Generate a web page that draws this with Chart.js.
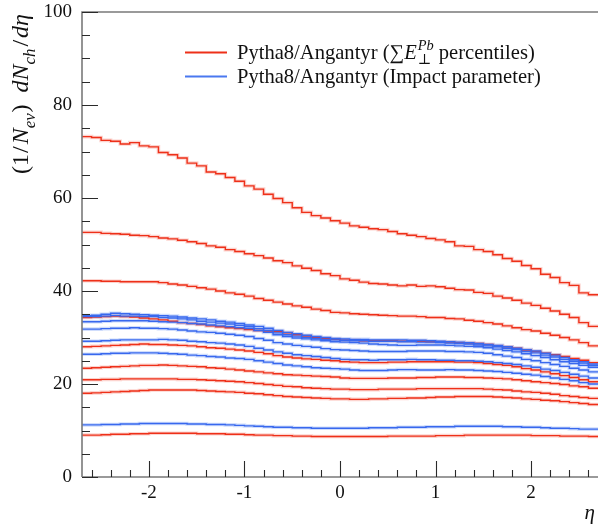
<!DOCTYPE html>
<html>
<head>
<meta charset="utf-8">
<script src="https://cdn.jsdelivr.net/npm/chart.js@4"></script>
<style>
  html, body { margin: 0; padding: 0; background: #ffffff; }
  #wrap { width: 598px; height: 525px; }
</style>
</head>
<body>
<div id="wrap"><canvas id="c" width="598" height="525"></canvas></div>
<script>
// ---------------- data ----------------
const binEdges = [-2.7,-2.6,-2.5,-2.4,-2.3,-2.2,-2.1,-2.0,-1.9,-1.8,-1.7,-1.6,-1.5,-1.4,-1.3,-1.2,-1.1,-1.0,-0.9,-0.8,-0.7,-0.6,-0.5,-0.4,-0.3,-0.2,-0.1,0.0,0.1,0.2,0.3,0.4,0.5,0.6,0.7,0.8,0.9,1.0,1.1,1.2,1.3,1.4,1.5,1.6,1.7,1.8,1.9,2.0,2.1,2.2,2.3,2.4,2.5,2.6,2.7];

// Pytha8/Angantyr (sum E_T^Pb percentiles) - red
const etPerc1 = [73.2,73.0,72.4,72.2,71.6,71.9,71.2,71.0,69.8,69.3,
  68.6,67.5,66.9,65.6,65.2,64.4,63.6,62.6,61.9,60.8,
  59.9,59.0,57.9,56.9,56.2,55.7,55.1,54.6,54.0,53.7,
  53.4,53.2,52.8,52.3,52.0,51.7,51.3,51.0,50.6,49.7,
  49.6,48.9,48.5,47.8,47.0,46.4,45.5,44.8,43.6,42.9,
  41.8,41.2,39.6,39.2];
const etPerc2 = [52.6,52.6,52.4,52.3,52.2,52.0,51.9,51.7,51.4,51.2,
  50.9,50.6,50.2,49.7,49.4,48.9,48.5,48.0,47.6,47.1,
  46.5,46.1,45.4,44.9,44.4,43.7,43.3,42.6,42.3,41.9,
  41.6,41.5,41.3,41.1,41.3,41.0,41.1,40.9,40.6,40.3,
  40.2,39.7,39.5,38.9,38.5,38.0,37.4,36.9,36.3,35.7,
  35.0,34.3,33.2,32.4];
const etPerc3 = [42.2,42.2,42.1,42.1,42.0,42.0,42.0,42.0,41.8,41.5,
  41.3,41.0,40.7,40.4,40.0,39.6,39.3,38.9,38.4,38.0,
  37.6,37.2,36.8,36.5,36.1,35.8,35.4,35.3,35.1,35.0,
  34.9,34.8,34.7,34.6,34.6,34.5,34.3,34.3,34.1,34.0,
  33.7,33.5,33.2,32.9,32.5,32.1,31.7,31.4,30.9,30.5,
  30.0,29.5,28.9,28.2];
const etPerc4 = [34.3,34.4,34.5,34.6,34.5,34.4,34.2,34.0,33.8,33.5,
  33.2,33.0,32.8,32.5,32.3,32.1,31.9,31.7,31.5,31.4,
  31.3,31.0,30.6,30.3,30.0,29.8,29.6,29.4,29.4,29.3,
  29.3,29.3,29.3,29.2,29.2,29.2,29.1,29.1,29.0,28.9,
  28.8,28.7,28.5,28.2,28.0,27.7,27.3,27.0,26.6,26.3,
  25.9,25.5,25.1,24.6];
const etPerc5 = [28.0,28.1,28.2,28.3,28.4,28.5,28.6,28.5,28.5,28.4,
  28.3,28.2,28.0,27.8,27.7,27.5,27.3,27.1,26.8,26.5,
  26.1,25.8,25.6,25.4,25.3,25.1,25.0,24.8,24.7,24.6,
  24.6,24.6,24.7,24.7,24.8,24.8,24.8,24.8,24.8,24.7,
  24.7,24.6,24.4,24.2,24.0,23.7,23.3,23.0,22.6,22.2,
  21.8,21.4,20.9,20.5];
const etPerc6 = [23.4,23.5,23.6,23.7,23.8,23.9,24.0,24.0,24.1,24.0,
  23.9,23.8,23.7,23.5,23.4,23.2,23.0,22.8,22.6,22.4,
  22.2,22.0,21.9,21.8,21.7,21.6,21.5,21.3,21.2,21.2,
  21.2,21.2,21.3,21.3,21.3,21.4,21.4,21.5,21.5,21.5,
  21.4,21.4,21.3,21.2,21.1,20.9,20.7,20.5,20.3,20.1,
  19.9,19.6,19.4,19.1];
const etPerc7 = [20.9,20.9,21.0,21.0,21.1,21.1,21.1,21.1,21.1,21.1,
  21.0,21.0,20.9,20.8,20.7,20.6,20.5,20.3,20.1,19.9,
  19.7,19.5,19.4,19.2,19.1,19.0,18.9,18.9,18.8,18.8,
  18.8,18.9,18.9,18.9,18.9,19.0,19.0,19.0,19.0,19.0,
  19.0,19.0,18.9,18.8,18.7,18.5,18.3,18.2,18.0,17.8,
  17.5,17.3,17.1,16.9];
const etPerc8 = [18.0,18.1,18.2,18.3,18.4,18.5,18.6,18.7,18.7,18.7,
  18.7,18.7,18.6,18.5,18.4,18.3,18.2,18.0,17.9,17.7,
  17.5,17.3,17.2,17.1,17.0,16.9,16.8,16.8,16.7,16.7,
  16.8,16.8,16.9,16.9,17.0,17.0,17.1,17.2,17.2,17.3,
  17.3,17.3,17.3,17.2,17.1,17.0,16.8,16.7,16.5,16.4,
  16.2,16.0,15.8,15.6];
const etPerc9 = [9.0,9.0,9.1,9.2,9.2,9.3,9.3,9.4,9.4,9.4,
  9.4,9.4,9.3,9.3,9.3,9.2,9.2,9.1,9.0,9.0,
  8.9,8.9,8.8,8.8,8.7,8.7,8.7,8.7,8.7,8.7,
  8.7,8.7,8.8,8.8,8.8,8.8,8.8,8.9,8.9,8.9,
  9.0,9.0,9.0,9.0,9.0,9.0,9.0,8.9,8.9,8.9,
  8.8,8.8,8.8,8.7];

// Pytha8/Angantyr (Impact parameter) - blue
const impact1 = [34.7,34.8,35.0,35.2,35.1,35.0,34.9,34.8,34.7,34.6,
  34.4,34.2,34.0,33.8,33.5,33.3,33.0,32.7,32.4,32.0,
  31.5,31.1,30.8,30.5,30.2,30.0,29.8,29.7,29.6,29.6,
  29.5,29.5,29.5,29.5,29.4,29.4,29.3,29.2,29.1,29.0,
  28.9,28.7,28.5,28.3,28.0,27.7,27.4,27.1,26.6,26.2,
  25.7,25.2,24.8,24.3];
const impact2 = [34.5,34.5,34.6,34.7,34.6,34.6,34.5,34.5,34.3,34.2,
  34.0,33.8,33.5,33.3,33.1,32.9,32.6,32.3,31.9,31.5,
  31.0,30.6,30.3,30.0,29.8,29.6,29.5,29.4,29.3,29.3,
  29.2,29.2,29.2,29.1,29.1,29.0,29.0,28.9,28.8,28.7,
  28.6,28.4,28.2,28.0,27.7,27.4,27.0,26.7,26.2,25.8,
  25.3,24.9,24.5,24.0];
const impact3 = [33.4,33.4,33.5,33.6,33.6,33.6,33.6,33.5,33.4,33.3,
  33.2,33.0,32.9,32.7,32.5,32.3,32.1,31.9,31.5,31.1,
  30.6,30.2,29.9,29.7,29.5,29.3,29.1,29.0,28.9,28.8,
  28.6,28.5,28.4,28.3,28.3,28.4,28.4,28.4,28.3,28.2,
  28.1,28.0,27.8,27.5,27.2,26.9,26.5,26.1,25.7,25.2,
  24.8,24.4,24.0,23.6];
const impact4 = [31.8,31.8,31.9,32.0,32.0,32.1,32.0,32.0,31.9,31.8,
  31.6,31.4,31.2,31.1,30.9,30.7,30.5,30.2,29.8,29.4,
  28.9,28.6,28.3,28.1,27.9,27.6,27.4,27.3,27.2,27.1,
  27.0,27.0,27.0,27.0,27.1,27.1,27.1,27.1,27.0,27.0,
  26.9,26.8,26.6,26.3,26.0,25.7,25.3,25.0,24.6,24.2,
  23.8,23.4,23.0,22.6];
const impact5 = [29.2,29.2,29.3,29.4,29.5,29.5,29.5,29.5,29.6,29.5,
  29.4,29.2,29.1,28.9,28.8,28.6,28.4,28.1,27.7,27.3,
  26.9,26.6,26.3,26.1,25.9,25.7,25.5,25.3,25.2,25.2,
  25.1,25.2,25.2,25.2,25.3,25.2,25.2,25.1,25.1,25.0,
  25.0,24.9,24.8,24.6,24.4,24.2,23.9,23.6,23.2,22.9,
  22.5,22.1,21.7,21.3];
const impact6 = [26.4,26.4,26.5,26.6,26.6,26.7,26.7,26.7,26.6,26.5,
  26.4,26.2,26.1,25.9,25.8,25.6,25.5,25.3,25.0,24.7,
  24.4,24.1,23.9,23.7,23.5,23.4,23.3,23.2,23.0,22.9,
  22.9,22.9,23.0,23.1,23.1,23.0,23.0,23.0,23.1,23.0,
  23.0,22.9,22.8,22.7,22.5,22.3,22.1,21.9,21.6,21.3,
  21.0,20.7,20.3,20.0];
const impact7 = [11.2,11.2,11.3,11.3,11.4,11.4,11.5,11.5,11.5,11.5,
  11.5,11.4,11.4,11.3,11.3,11.2,11.1,11.0,10.9,10.8,
  10.7,10.7,10.6,10.6,10.5,10.5,10.5,10.5,10.5,10.5,
  10.6,10.6,10.6,10.7,10.7,10.7,10.8,10.8,10.8,10.9,
  10.9,10.9,10.9,10.9,10.8,10.8,10.7,10.7,10.6,10.5,
  10.5,10.4,10.3,10.3];

const sumEtSeries = [etPerc1, etPerc2, etPerc3, etPerc4, etPerc5, etPerc6, etPerc7, etPerc8, etPerc9];
const impactSeries = [impact1, impact2, impact3, impact4, impact5, impact6, impact7];

const legendLabels = ['Pytha8/Angantyr (\u2211E\u22A5Pb percentiles)', 'Pytha8/Angantyr (Impact parameter)'];
const xMajorTicks = [-2, -1, 0, 1, 2];
const xMinorTicks = [-2.6,-2.4,-2.2,-1.8,-1.6,-1.4,-1.2,-0.8,-0.6,-0.4,-0.2,0.2,0.4,0.6,0.8,1.2,1.4,1.6,1.8,2.2,2.4,2.6];
const yMajorTicks = [0, 20, 40, 60, 80, 100];
const yMinorTicks = [5,10,15,25,30,35,45,50,55,65,70,75,85,90,95];

// ---------------- style ----------------
const RED = '#ee3019';
const BLUE = '#3868ee';
const RED_BAND = 'rgba(246,120,105,0.32)';
const BLUE_BAND = 'rgba(110,150,246,0.32)';
const FAMILY = '"Liberation Serif", "DejaVu Serif", serif';

function histPoints(vals) {
  return binEdges.map((e, i) => ({ x: e, y: vals[Math.min(i, vals.length - 1)] }));
}
function lineDs(vals, color, width, order) {
  return {
    data: histPoints(vals), borderColor: color, borderWidth: width,
    stepped: 'before', pointRadius: 0, fill: false, tension: 0, order: order
  };
}

const datasets = [];
impactSeries.forEach(v => datasets.push(lineDs(v, BLUE, 1.4, 0)));
sumEtSeries.forEach(v => datasets.push(lineDs(v, RED, 1.4, 1)));
impactSeries.forEach(v => datasets.push(lineDs(v, BLUE_BAND, 3.6, 2)));
sumEtSeries.forEach(v => datasets.push(lineDs(v, RED_BAND, 3.6, 3)));

// rich text helper
function drawRich(ctx, pieces, x, y, size, measureOnly) {
  let cx = x;
  let prevAdv = 0, prevStart = x;
  pieces.forEach(p => {
    const s = (p.sub || p.sup) ? size * 0.7 : size;
    ctx.font = (p.i ? 'italic ' : '') + s + 'px ' + FAMILY;
    const w = ctx.measureText(p.t).width;
    let dy = 0;
    if (p.sub) dy = size * 0.28;
    if (p.sup) dy = -size * 0.42;
    let startX = cx;
    if (p.stack) { startX = prevStart; }
    if (!measureOnly) ctx.fillText(p.t, startX, y + dy);
    if (p.stack) {
      cx = prevStart + Math.max(prevAdv, w);
    } else {
      prevStart = cx; prevAdv = w;
      cx += w + (p.gap || 0);
    }
  });
  return cx - x;
}

const yTitlePieces = [
  { t: '(1', gap: 1 }, { t: '/', gap: 2 }, { t: 'N', i: 1 }, { t: 'ev', i: 1, sub: 1, gap: 1 }, { t: ')  ' },
  { t: 'd', i: 1 }, { t: 'N', i: 1 }, { t: 'ch', i: 1, sub: 1, gap: 2 }, { t: '/', gap: 2 },
  { t: 'd', i: 1 }, { t: '\u03B7', i: 1 }
];
const legendPieces = [
  [ { t: 'Pytha8/Angantyr (' }, { t: '\u2211' }, { t: 'E', i: 1, gap: 1 }, { t: '\u22A5', sub: 1 }, { t: 'Pb', i: 1, sup: 1, stack: 1 }, { t: ' percentiles)' } ],
  [ { t: 'Pytha8/Angantyr (Impact parameter)' } ]
];

const decor = {
  id: 'decor',
  afterDraw(chart) {
    const { ctx, chartArea: a, scales: { x, y } } = chart;
    ctx.save();
    // frame
    ctx.strokeStyle = '#7a7a7a';
    ctx.lineWidth = 1.6;
    ctx.beginPath();
    ctx.moveTo(a.left, a.bottom); ctx.lineTo(a.left, a.top); ctx.lineTo(a.right + 2, a.top);
    ctx.moveTo(a.left, a.bottom); ctx.lineTo(a.right + 2, a.bottom);
    ctx.stroke();
    // ticks (inside)
    ctx.strokeStyle = '#2a2a2a';
    ctx.lineWidth = 1.1;
    ctx.beginPath();
    yMinorTicks.forEach(v => { const py = Math.round(y.getPixelForValue(v)) + 0.5; ctx.moveTo(a.left, py); ctx.lineTo(a.left + 8, py); });
    yMajorTicks.forEach(v => { const py = Math.round(y.getPixelForValue(v)) + 0.5; ctx.moveTo(a.left, py); ctx.lineTo(a.left + 16, py); });
    xMinorTicks.forEach(v => { const px = Math.round(x.getPixelForValue(v)) + 0.5; ctx.moveTo(px, a.bottom); ctx.lineTo(px, a.bottom - 7); });
    xMajorTicks.forEach(v => { const px = Math.round(x.getPixelForValue(v)) + 0.5; ctx.moveTo(px, a.bottom); ctx.lineTo(px, a.bottom - 16); });
    ctx.stroke();

    ctx.fillStyle = '#111';
    ctx.textBaseline = 'alphabetic';
    ctx.textAlign = 'left';

    // y title (rotated), ending at top of axis
    let ySize = 21;
    let w = drawRich(ctx, yTitlePieces, 0, 0, ySize, true);
    ySize = Math.max(18, Math.min(24, ySize * 185 / w));
    w = drawRich(ctx, yTitlePieces, 0, 0, ySize, true);
    ctx.save();
    ctx.translate(28, a.top + 2 + w);
    ctx.rotate(-Math.PI / 2);
    drawRich(ctx, yTitlePieces, 0, 0, ySize, false);
    ctx.restore();

    // x title
    ctx.font = 'italic 21px ' + FAMILY;
    ctx.textAlign = 'right';
    ctx.fillText('\u03B7', 595, 519);
    ctx.textAlign = 'left';

    // legend
    let lSize = 20;
    const lw = drawRich(ctx, legendPieces[1], 0, 0, lSize, true);
    lSize = lSize * 304 / lw;
    const legendY = [52, 76];
    const legendCol = [RED, '#4a78f0'];
    legendPieces.forEach((pcs, k) => {
      ctx.strokeStyle = legendCol[k];
      ctx.lineWidth = 2;
      ctx.beginPath();
      ctx.moveTo(185, legendY[k] + 0.5); ctx.lineTo(227, legendY[k] + 0.5);
      ctx.stroke();
      ctx.fillStyle = '#111';
      drawRich(ctx, pcs, 237, legendY[k] + lSize * 0.32, lSize, false);
    });
    ctx.restore();
  }
};

new Chart(document.getElementById('c'), {
  type: 'line',
  data: { datasets: datasets },
  options: {
    responsive: false,
    animation: false,
    devicePixelRatio: 1,
    parsing: false,
    normalized: true,
    layout: { padding: { top: 12, right: 0, left: 0, bottom: 0 } },
    plugins: { legend: { display: false }, tooltip: { enabled: false }, title: { display: false } },
    scales: {
      x: {
        type: 'linear', min: -2.7, max: 2.7,
        grid: { display: false, drawTicks: false },
        border: { display: false },
        afterBuildTicks: s => { s.ticks = xMajorTicks.map(v => ({ value: v })); },
        afterFit: s => { s.height = 48; s.paddingLeft = 0; s.paddingRight = 0; },
        ticks: { color: '#111', padding: 5, maxRotation: 0, autoSkip: false, font: { family: FAMILY, size: 19 } }
      },
      y: {
        type: 'linear', min: 0, max: 100,
        grid: { display: false, drawTicks: false },
        border: { display: false },
        afterBuildTicks: s => { s.ticks = yMajorTicks.map(v => ({ value: v })); },
        afterFit: s => { s.width = 82; s.paddingTop = 0; s.paddingBottom = 0; },
        ticks: { color: '#111', padding: 10, font: { family: FAMILY, size: 19 } }
      }
    }
  },
  plugins: [decor]
});
</script>
</body>
</html>
